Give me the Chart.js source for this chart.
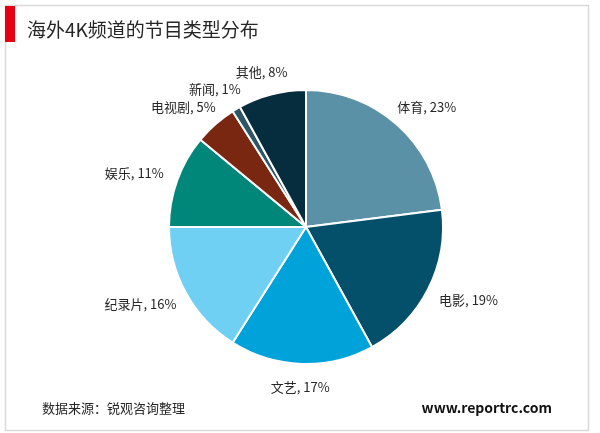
<!DOCTYPE html>
<html><head><meta charset="utf-8">
<script src="https://cdn.jsdelivr.net/npm/chart.js@4/dist/chart.umd.min.js"></script>
<style>html,body{margin:0;padding:0;background:#fff}canvas{display:block}</style>
</head><body>
<canvas id="c" width="600" height="433"></canvas>
<script>
const categories = ["体育","电影","文艺","纪录片","娱乐","电视剧","新闻","其他"];
const shares = [23,19,17,16,11,5,1,8];
const colors = ["#5B91A6","#044F6A","#00A2DA","#70D0F4","#00877A","#7A2712","#2D5567","#052D3D"];
const titleText = "海外4K频道的节目类型分布";
const sourceText = "数据来源：锐观咨询整理";
const siteText = "www.reportrc.com";
const FONT = '"Noto Sans CJK SC","Microsoft YaHei",sans-serif';

const decor = {
  id:'decor',
  beforeDraw(chart){
    const ctx = chart.ctx;
    ctx.save();
    ctx.fillStyle='#fff'; ctx.fillRect(0,0,600,433);
    ctx.strokeStyle='#d9d9d9'; ctx.lineWidth=1.5;
    ctx.strokeRect(5.5,5.5,583,425);
    ctx.fillStyle='#E60012'; ctx.fillRect(5,6,10,36);
    ctx.fillStyle='#262626'; ctx.font='19px '+FONT; ctx.textBaseline='middle'; ctx.textAlign='left';
    ctx.fillText(titleText,27,30);
    ctx.font='13px '+FONT; ctx.fillStyle='#262626';
    ctx.fillText(sourceText,42,408);
    ctx.font='bold 14px '+FONT; ctx.fillStyle='#111';
    ctx.textAlign='right'; ctx.fillText(siteText,552,408);
    ctx.restore();
  },
  afterDatasetsDraw(chart){
    const ctx = chart.ctx;
    const meta = chart.getDatasetMeta(0);
    ctx.save();
    ctx.font='13px '+FONT; ctx.fillStyle='#262626'; ctx.textBaseline='middle'; ctx.textAlign='center';
    meta.data.forEach((arc,i)=>{
      const p = arc.getProps(['x','y','startAngle','endAngle','outerRadius'],true);
      const mid=(p.startAngle+p.endAngle)/2;
      const r=p.outerRadius+16;
      const ax=p.x+Math.cos(mid)*r, ay=p.y+Math.sin(mid)*r;
      const txt=categories[i]+', '+shares[i]+'%';
      const w=ctx.measureText(txt).width, h=14;
      const cx=ax+Math.cos(mid)*w/2, cy=ay+Math.sin(mid)*h/2;
      ctx.fillText(txt,cx,cy);
    });
    ctx.restore();
  }
};

new Chart(document.getElementById('c'),{
  type:'pie',
  data:{labels:categories,datasets:[{data:shares,backgroundColor:colors,borderColor:'#fff',borderWidth:2}]},
  options:{
    responsive:false,animation:false,
    layout:{padding:{top:89,bottom:68,left:168,right:156}},
    plugins:{legend:{display:false},tooltip:{enabled:false},title:{display:false}}
  },
  plugins:[decor]
});
</script>
</body></html>
